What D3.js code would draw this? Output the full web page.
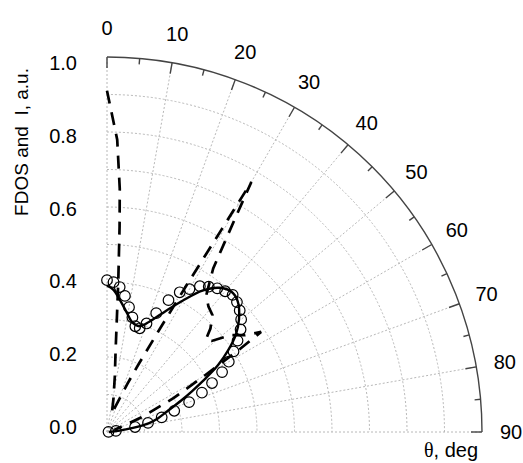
<!DOCTYPE html>
<html lang="en">
  <head>
    <meta charset="utf-8" />
    <script src="https://cdn.jsdelivr.net/npm/d3@7"></script>
    <style>
      body { margin: 0; background: #fff; }
      text { font-family: "Liberation Sans", Arial, sans-serif; fill: #000; }
    </style>
  </head>
  <body>
    <script>
      var width = 523,
        height = 463;
      var cx = 107,
        cy = 432,
        R = 375;

      // axis ticks
      var angleTicks = [0, 10, 20, 30, 40, 50, 60, 70, 80, 90];
      var minorAngleTicks = [5, 15, 25, 35, 45, 55, 65, 75, 85];
      var radiusTicks = [0, 0.2, 0.4, 0.6, 0.8, 1.0];
      var gridRadii = [0.1, 0.2, 0.3, 0.4, 0.5, 0.6, 0.7, 0.8, 0.9];

      // measured intensity (open circles)
      var expTheta = [0, 2.5, 5, 7.5, 10, 12.5, 15, 17.5, 20, 22.5, 25, 27.5, 30, 32.5, 35, 37.5, 40, 42.5,
        45, 47.5, 50, 52.5, 55, 57.5, 60, 62.5, 65, 67.5, 70, 72.5, 75, 77.5, 80, 82.5, 85];
      var expR = [0.405, 0.40, 0.388, 0.366, 0.338, 0.313, 0.292, 0.29, 0.308, 0.343, 0.388, 0.42, 0.44,
        0.461, 0.473, 0.483, 0.49, 0.496, 0.49, 0.48, 0.467, 0.449, 0.425, 0.40, 0.375, 0.346, 0.309,
        0.274, 0.233, 0.188, 0.151, 0.112, 0.076, 0.024, 0.004];

      // calculated intensity (solid line)
      var fitTheta = [0, 2.5, 6, 9.5, 13, 17, 21, 26, 30, 34, 38, 41.5, 45, 49.5, 53, 56, 59, 62, 64.5,
        67, 71, 75, 78, 81, 84, 88];
      var fitR = [0.39, 0.38, 0.35, 0.322, 0.30, 0.295, 0.315, 0.36, 0.405, 0.455, 0.488, 0.5, 0.493,
        0.463, 0.43, 0.39, 0.345, 0.29, 0.25, 0.215, 0.17, 0.14, 0.115, 0.07, 0.03, 0.005];

      // FDOS (dashed line)
      var fdosTheta = [0, 1, 2, 3, 3.5, 4.3, 5, 6, 8, 11, 15, 18, 21, 23, 25, 27, 28.5, 29.5, 30, 31, 33,
        36, 39, 42, 45, 47, 49, 52, 55, 57, 58, 60, 63, 67, 75];
      var fdosR = [0.91, 0.84, 0.78, 0.65, 0.55, 0.4, 0.3, 0.22, 0.15, 0.09, 0.05, 0.07, 0.1, 0.14, 0.2,
        0.3, 0.45, 0.62, 0.77, 0.66, 0.52, 0.45, 0.43, 0.42, 0.39, 0.36, 0.37, 0.42, 0.45, 0.49, 0.42,
        0.3, 0.2, 0.1, 0.02];

      var svg = d3
        .select("body")
        .append("svg")
        .attr("width", width)
        .attr("height", height);

      var r = d3.scaleLinear().domain([0, 1]).range([0, R]);
      var a = d3.scaleLinear().domain([0, 90]).range([0, Math.PI / 2]);

      var g = svg.append("g").attr("transform", "translate(" + cx + "," + cy + ")");

      // grid arcs
      gridRadii.forEach(function (v) {
        var p = d3.path();
        p.moveTo(0, -r(v));
        p.arc(0, 0, r(v), -Math.PI / 2, 0);
        g.append("path")
          .attr("d", p.toString())
          .attr("fill", "none")
          .attr("stroke", "#b8b8b8")
          .attr("stroke-width", 1)
          .attr("stroke-dasharray", "2,2");
      });

      // radial grid lines
      g.selectAll(".spoke")
        .data(angleTicks)
        .join("line")
        .attr("x1", 0)
        .attr("y1", 0)
        .attr("x2", function (d) { return r(1) * Math.sin(a(d)); })
        .attr("y2", function (d) { return -r(1) * Math.cos(a(d)); })
        .attr("stroke", "#b8b8b8")
        .attr("stroke-width", 1)
        .attr("stroke-dasharray", "2,2");

      // outer arc
      var outer = d3.path();
      outer.moveTo(0, -r(1));
      outer.arc(0, 0, r(1), -Math.PI / 2, 0);
      g.append("path")
        .attr("d", outer.toString())
        .attr("fill", "none")
        .attr("stroke", "#444")
        .attr("stroke-width", 1.4);

      // ticks on the arc
      function tick(list, len) {
        g.selectAll(null)
          .data(list)
          .join("line")
          .attr("x1", function (d) { return r(1) * Math.sin(a(d)); })
          .attr("y1", function (d) { return -r(1) * Math.cos(a(d)); })
          .attr("x2", function (d) { return (r(1) - len) * Math.sin(a(d)); })
          .attr("y2", function (d) { return -(r(1) - len) * Math.cos(a(d)); })
          .attr("stroke", "#444")
          .attr("stroke-width", 1.4);
      }
      tick(angleTicks, 11);
      tick(minorAngleTicks, 6);

      // angle labels
      g.selectAll(".alab")
        .data(angleTicks)
        .join("text")
        .attr("x", function (d) { return 404 * Math.sin(a(d)); })
        .attr("y", function (d) { return -404 * Math.cos(a(d)); })
        .attr("text-anchor", "middle")
        .attr("dominant-baseline", "central")
        .attr("font-size", 20)
        .text(function (d) { return d; });

      // radius axis labels (printed slightly compressed vs the grid, as in the original)
      var yAxis = d3
        .axisLeft(d3.scaleLinear().domain([0, 1]).range([-5, -R + 6]))
        .tickValues(radiusTicks)
        .tickSize(0)
        .tickPadding(30)
        .tickFormat(d3.format(".1f"));
      var ya = g.append("g").call(yAxis);
      ya.select(".domain").remove();
      ya.selectAll("text")
        .attr("font-size", 20)
        .attr("font-family", "Liberation Sans, Arial, sans-serif");

      // FDOS dashed
      var fdos = fdosTheta.map(function (t, i) { return [a(t), r(fdosR[i])]; });
      g.append("path")
        .attr("d", d3.lineRadial()(fdos))
        .attr("fill", "none")
        .attr("stroke", "#000")
        .attr("stroke-width", 2.7)
        .attr("stroke-dasharray", "13,9");

      // fit solid
      var fit = fitTheta.map(function (t, i) { return [a(t), r(fitR[i])]; });
      g.append("path")
        .attr("d", d3.lineRadial().curve(d3.curveCatmullRom)(fit))
        .attr("fill", "none")
        .attr("stroke", "#000")
        .attr("stroke-width", 2.4);

      // measured circles
      g.selectAll(".pt")
        .data(expTheta)
        .join("circle")
        .attr("cx", function (d, i) { return r(expR[i]) * Math.sin(a(d)); })
        .attr("cy", function (d, i) { return -r(expR[i]) * Math.cos(a(d)); })
        .attr("r", 5.3)
        .attr("fill", "none")
        .attr("stroke", "#000")
        .attr("stroke-width", 1.2);

      // titles
      svg.append("text")
        .attr("transform", "translate(21,142) rotate(-90)")
        .attr("text-anchor", "middle")
        .attr("dominant-baseline", "central")
        .attr("font-size", 19)
        .style("white-space", "pre")
        .text("FDOS and  I, a.u.");

      var xt = svg.append("text").attr("x", 424).attr("y", 457).attr("font-size", 20);
      xt.append("tspan").attr("font-family", "Liberation Serif, Times New Roman, serif").text("θ");
      xt.append("tspan").text(", deg");

      console.log("ready..");
    </script>
  </body>
</html>
